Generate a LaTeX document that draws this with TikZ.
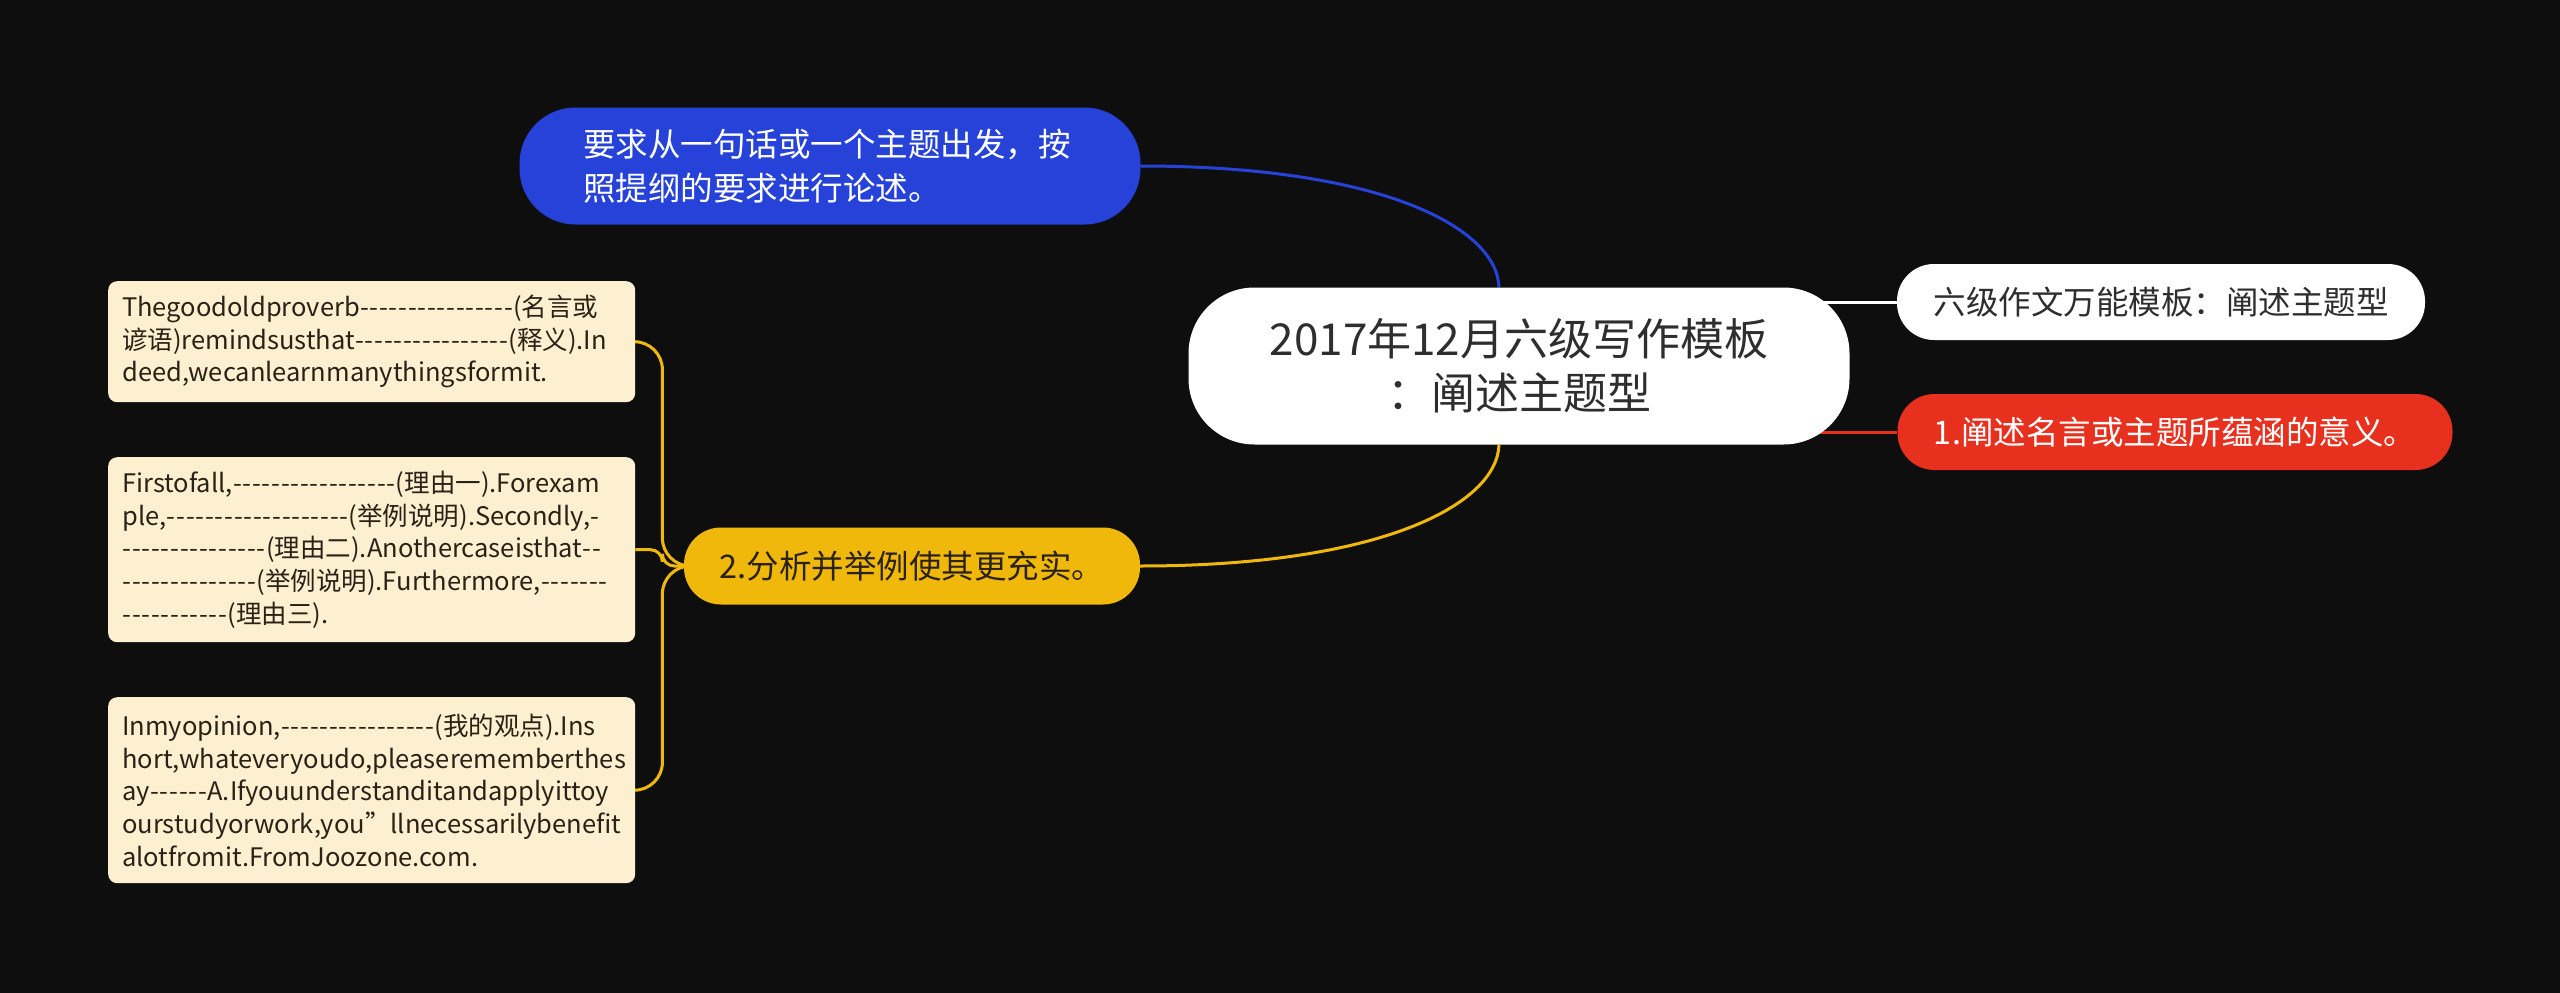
\documentclass[tikz,border=0pt]{standalone}
\usepackage{fontspec}
\setmainfont{Noto Sans CJK SC}
\newfontfamily\boxfont{Noto Sans CJK SC}
\usetikzlibrary{calc}
\newcount\mydashcnt
\newcommand\dsh[1]{\mydashcnt=0 \loop\ifnum\mydashcnt<#1 \makebox[9.6pt]{-}\advance\mydashcnt by 1 \repeat}
\definecolor{bgc}{HTML}{0E0E0E}
\definecolor{bluec}{HTML}{2642D8}
\definecolor{redc}{HTML}{E8301E}
\definecolor{yelc}{HTML}{F1B80C}
\definecolor{creamc}{HTML}{FCF0D0}
\definecolor{darkt}{HTML}{2E2E2E}
\definecolor{boxt}{HTML}{2A2216}
\pgfdeclarelayer{bgfill}
\pgfdeclarelayer{lines}
\pgfsetlayers{bgfill,lines,main}
\tikzset{
  rootnode/.style={fill=white, rounded corners=66pt, minimum width=661pt, minimum height=157pt, inner sep=0pt, align=center, text=darkt, font=\fontsize{44}{54}\selectfont},
  pillnode/.style={rounded corners=37pt, minimum height=76pt, inner sep=0pt, font=\fontsize{32.5}{44}\selectfont},
  notebox/.style={fill=creamc, rounded corners=9pt, minimum width=527pt, inner xsep=14pt, inner ysep=0pt, text width=499pt, align=left, text=boxt, font=\boxfont\fontsize{25.5}{32.6}\selectfont, anchor=north west},
  link/.style={line width=3pt}
}
\begin{document}
\begin{tikzpicture}[x=1pt,y=-1pt]
\begin{pgfonlayer}{bgfill}
\fill[bgc] (0,0) rectangle (2560,993);
\end{pgfonlayer}
\useasboundingbox (0,0) rectangle (2560,993);

\node[rootnode] (C) at (1519,366) {2017年12月六级写作模板\\：阐述主题型};
\node[pillnode, fill=white, text=darkt, minimum width=528pt] (W) at (2161,302) {六级作文万能模板：阐述主题型};
\node[pillnode, fill=redc, text=white, minimum width=555pt] (R) at (2175,432) {1.阐述名言或主题所蕴涵的意义。};
\node[pillnode, fill=bluec, text=white, minimum width=621pt, minimum height=117pt, rounded corners=56pt, align=left, text width=494pt] (B) at (830,166) {要求从一句话或一个主题出发，按\\照提纲的要求进行论述。};
\node[pillnode, fill=yelc, text=boxt, minimum width=456pt, minimum height=77pt] (Y) at (912,566) {2.分析并举例使其更充实。};

\node[notebox, minimum height=121pt] (K1) at (108,281) {Thegoodoldproverb\dsh{16}(名言或\\谚语)remindsusthat\dsh{16}(释义).In\\deed,wecanlearnmanythingsformit.};
\node[notebox, minimum height=185pt] (K2) at (108,457) {Firstofall,\dsh{17}(理由一).Forexam\\ple,\dsh{19}(举例说明).Secondly,\dsh{1}\\\dsh{15}(理由二).Anothercaseisthat\dsh{2}\\\dsh{14}(举例说明).Furthermore,\dsh{7}\\\dsh{11}(理由三).};
\node[notebox, minimum height=186pt] (K3) at (108,697) {Inmyopinion,\dsh{16}(我的观点).Ins\\hort,whateveryoudo,pleaserememberthes\\ay\dsh{6}A.Ifyouunderstanditandapplyittoy\\ourstudyorwork,you”llnecessarilybenefit\\alotfromit.FromJoozone.com.};

\begin{pgfonlayer}{lines}
\draw[link, bluec] (B.east) .. controls +(240,0) and ($(C.north)+(-22,-60)$) .. ($(C.north)+(-20,0)$);
\draw[link, yelc] ($(C.south)+(-20,0)$) .. controls ($(C.south)+(-22,60)$) and ($(Y.east)+(240,0)$) .. (Y.east);
\draw[link, white] (C.center |- W.west) -- (W.west);
\draw[link, redc] (C.center |- R.west) -- (R.west);
\draw[link, yelc, rounded corners=28pt] (Y.west) -| ($(K1.east)+(27,0)$) -- (K1.east);
\draw[link, yelc, rounded corners=12pt] (Y.west) -| ($(K2.east)+(27,0)$) -- (K2.east);
\draw[link, yelc, rounded corners=28pt] (Y.west) -| ($(K3.east)+(27,0)$) -- (K3.east);
\end{pgfonlayer}
\end{tikzpicture}
\end{document}
